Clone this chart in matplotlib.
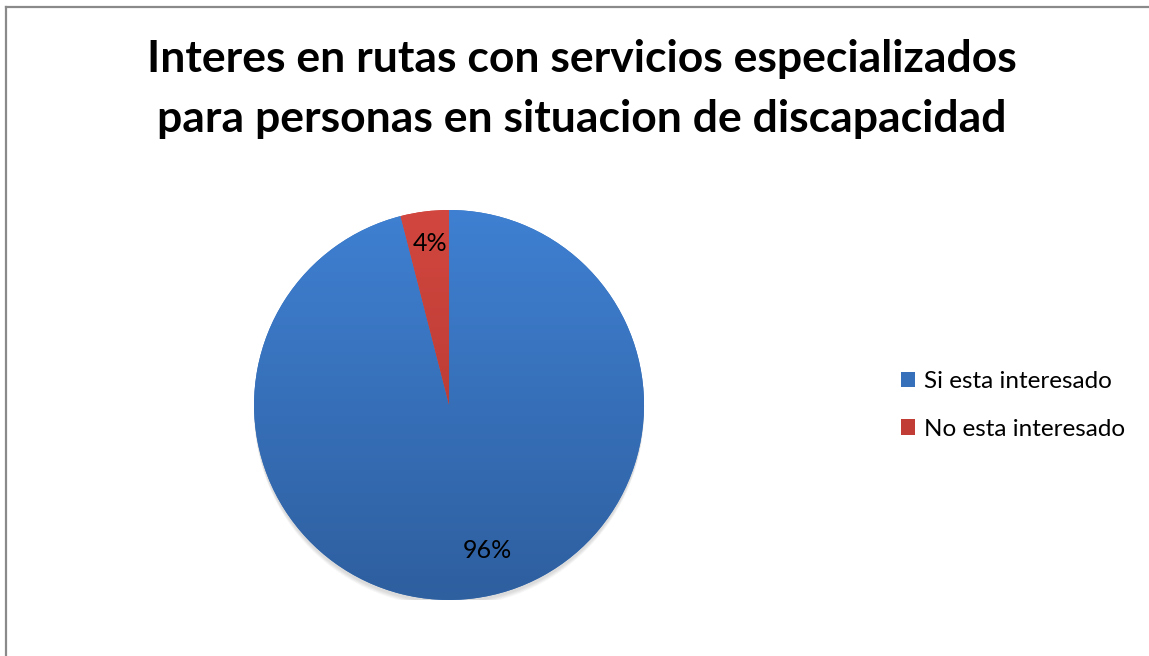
import matplotlib.pyplot as plt
import numpy as np
from matplotlib.colors import LinearSegmentedColormap
from matplotlib.lines import Line2D

labels = ['Si esta interesado', 'No esta interesado']
values = [96, 4]
pct_labels = ['96%', '4%']

plt.rcParams['font.family'] = ['Lato', 'DejaVu Sans']

fig = plt.figure(figsize=(11.49, 6.56), dpi=100)
ax = fig.add_axes([0.2211, 0.0854, 0.3394, 0.5945])

top_colors = ['#3f80d2', '#d2473f']
bot_colors = ['#2e5f9f', '#a9332c']
mid_colors = ['#3670bb', '#c23c36']

wedges, texts = ax.pie(values, startangle=90, counterclock=False,
                       colors=mid_colors, radius=1.0)

# vertical gradient fill clipped to each wedge
grad = np.linspace(0, 1, 256).reshape(-1, 1)
for w, c0, c1 in zip(wedges, top_colors, bot_colors):
    cmap = LinearSegmentedColormap.from_list('g', [c1, c0])
    im = ax.imshow(grad, cmap=cmap, extent=[-1, 1, -1, 1], origin='lower',
                   aspect='auto', zorder=2)
    im.set_clip_path(w)
    w.set_edgecolor('none')

# soft shadow under the pie
for i in range(6):
    sh = plt.Circle((0.0, -0.015 - 0.004 * i), 1.0, color='black',
                    alpha=0.025, zorder=0.5, lw=0)
    ax.add_patch(sh)

ax.set_xlim(-1, 1)
ax.set_ylim(-1, 1)
ax.set_aspect('equal')
ax.axis('off')

# percentage labels
pct_pos = {'96%': (0.195, -0.745), '4%': (-0.095, 0.83)}
for v, t in zip(values, pct_labels):
    x, y = pct_pos[t]
    ax.text(x, y, t, ha='center', va='center', fontsize=18, color='black',
            zorder=5)

fig.text(0.5065, 0.91, 'Interes en rutas con servicios especializados',
         ha='center', va='center', fontsize=32, fontweight='bold')
fig.text(0.5065, 0.818, 'para personas en situacion de discapacidad',
         ha='center', va='center', fontsize=32, fontweight='bold')

handles = [plt.Rectangle((0, 0), 1, 1, facecolor=c, edgecolor='none')
           for c in mid_colors]
fig.legend(handles, labels, loc='center left',
           bbox_to_anchor=(0.765, 0.382), frameon=False, fontsize=17.5,
           handlelength=0.6, handleheight=0.6, handletextpad=0.35,
           labelspacing=1.1)

# chart area border
fig.add_artist(Line2D([5.5 / 1149, 5.5 / 1149], [0, 1 - 7 / 656],
                      transform=fig.transFigure, color='#8a8a8a', lw=1.6))
fig.add_artist(Line2D([5.5 / 1149, 1], [1 - 7 / 656, 1 - 7 / 656],
                      transform=fig.transFigure, color='#8a8a8a', lw=1.6))

plt.savefig('out.png', dpi=100)
